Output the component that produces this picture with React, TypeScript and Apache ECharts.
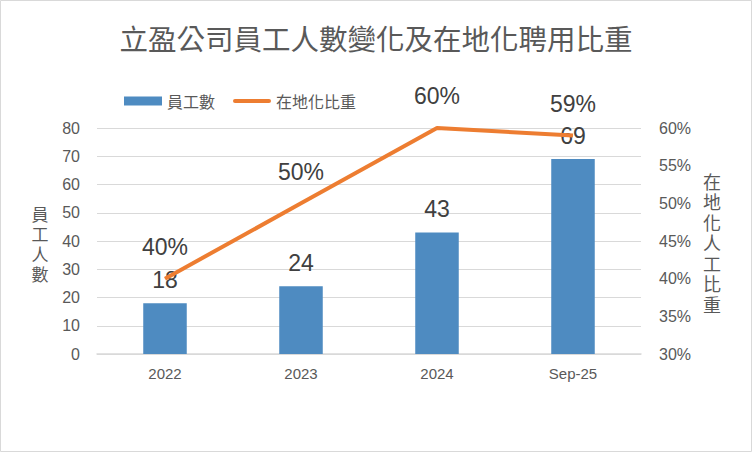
import React, { useEffect, useRef } from "react";
import * as echarts from "echarts";

const categories = ["2022", "2023", "2024", "Sep-25"];
const employees = [18, 24, 43, 69];
const localRatio = [0.4, 0.5, 0.6, 0.59];
const leftTicks = { min: 0, max: 80, interval: 10 };
const rightTicks = { min: 0.3, max: 0.6, interval: 0.05 };
const leftAxisName = "員工人數";
const rightAxisName = "在地化人工比重";

const FONT = '"Liberation Sans", "Noto Sans CJK TC", sans-serif';
const CJK = '"Noto Sans CJK TC", "Liberation Sans", sans-serif';

function verticalText(text: string, x: number, cy: number, size: number, step: number) {
  const chars = Array.from(text);
  const start = cy - ((chars.length - 1) * step) / 2;
  return chars.map((c, i) => ({
    type: "text",
    x,
    y: start + i * step,
    silent: true,
    style: {
      text: c,
      fontFamily: FONT,
      fontSize: size,
      fill: "#595959",
      align: "center",
      verticalAlign: "middle",
    },
  }));
}

export default function App() {
  const ref = useRef<HTMLDivElement>(null);
  useEffect(() => {
    if (!ref.current) return;
    const chart = echarts.init(ref.current, undefined, { renderer: "svg" });
    chart.setOption({
      animation: false,
      backgroundColor: "#ffffff",
      title: {
        text: "立盈公司員工人數變化及在地化聘用比重",
        left: "center",
        top: 18,
        textStyle: { fontFamily: CJK, fontSize: 28.5, fontWeight: "normal", color: "#595959" },
      },
      legend: {
        left: 119,
        top: 88,
        itemWidth: 38,
        itemHeight: 9,
        itemGap: 18,
        textStyle: { fontFamily: CJK, fontSize: 16, color: "#595959" },
        data: [
          { name: "員工數", icon: "rect" },
          {
            name: "在地化比重",
            icon: "path://M2,0 H36 A2,2 0 0 1 36,4 H2 A2,2 0 0 1 2,0 Z",
            itemStyle: { color: "#ed7d31", opacity: 1 },
          },
        ],
      },
      grid: { left: 97, right: 111, top: 128, bottom: 98 },
      xAxis: {
        type: "category",
        data: categories,
        axisLine: { lineStyle: { color: "#d9d9d9", width: 1.5 } },
        axisTick: { show: false },
        axisLabel: { fontFamily: FONT, fontSize: 15, color: "#595959", margin: 12 },
      },
      yAxis: [
        {
          type: "value",
          min: leftTicks.min,
          max: leftTicks.max,
          interval: leftTicks.interval,
          axisLine: { show: false },
          axisTick: { show: false },
          splitLine: { lineStyle: { color: "#d9d9d9" } },
          axisLabel: { fontFamily: FONT, fontSize: 16, color: "#595959", margin: 17 },
        },
        {
          type: "value",
          min: rightTicks.min,
          max: rightTicks.max,
          interval: rightTicks.interval,
          axisLine: { show: false },
          axisTick: { show: false },
          splitLine: { show: false },
          axisLabel: {
            fontFamily: FONT,
            fontSize: 16,
            color: "#595959",
            margin: 18,
            formatter: (v: number) => Math.round(v * 100) + "%",
          },
        },
      ],
      series: [
        {
          name: "員工數",
          type: "bar",
          data: employees,
          barWidth: "32%",
          itemStyle: { color: "#4e8bc1" },
          label: {
            show: true,
            position: "top",
            distance: 12,
            fontFamily: FONT,
            fontSize: 23,
            color: "#404040",
          },
        },
        {
          name: "在地化比重",
          type: "line",
          yAxisIndex: 1,
          data: localRatio,
          symbol: "circle",
          symbolSize: 0.5,
          showSymbol: true,
          lineStyle: { color: "#ed7d31", width: 4 },
          itemStyle: { color: "#ed7d31" },
          label: {
            show: true,
            position: "top",
            distance: 20,
            fontFamily: FONT,
            fontSize: 23,
            color: "#404040",
            formatter: (p: any) => Math.round(p.value * 100) + "%",
          },
        },
      ],
      graphic: [
        {
          type: "rect",
          shape: { x: 0.5, y: 0.5, width: 751, height: 451 },
          style: { fill: "none", stroke: "#d9d9d9", lineWidth: 1 },
          silent: true,
        },
        ...verticalText(leftAxisName, 40, 245, 17, 20),
        ...verticalText(rightAxisName, 712, 244, 18, 20.5),
      ],
    });
    return () => chart.dispose();
  }, []);
  return (
    <div
      ref={ref}
      style={{ position: "fixed", left: 0, top: 0, width: 752, height: 452 }}
    />
  );
}
